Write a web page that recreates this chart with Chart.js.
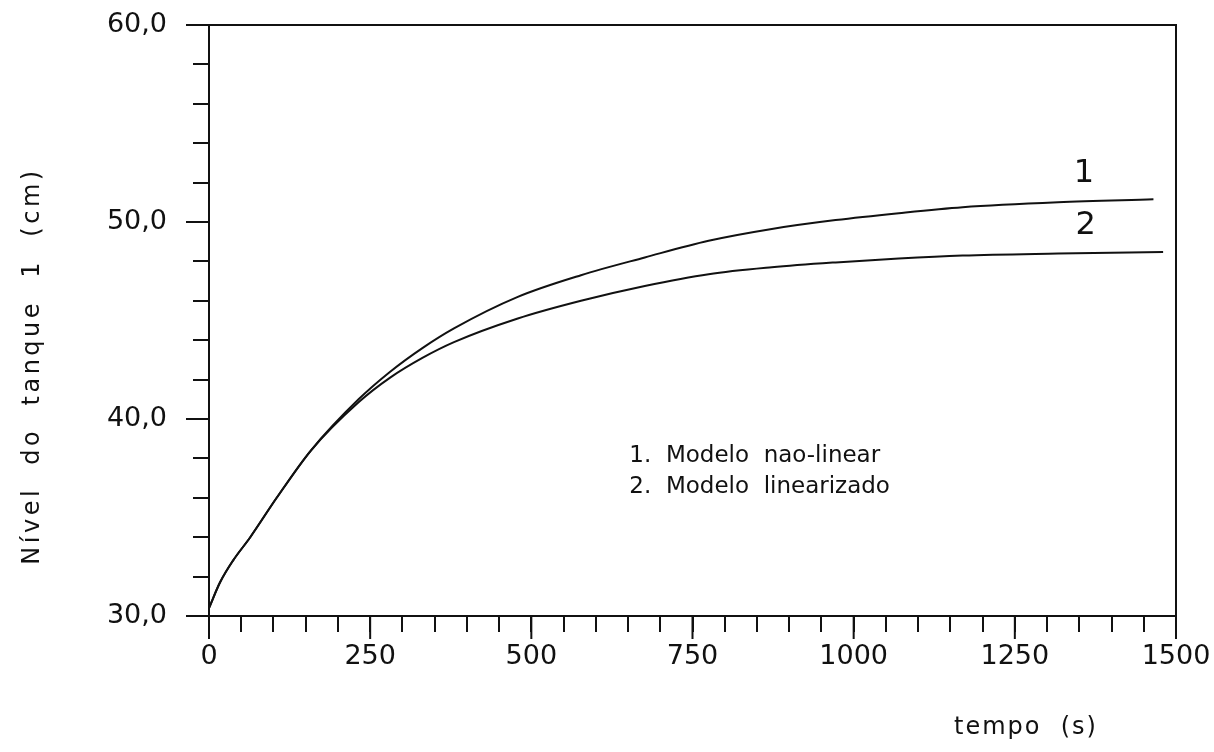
<!DOCTYPE html>
<html>
<head>
<meta charset="utf-8">
<script src="https://cdn.jsdelivr.net/npm/chart.js@4.4.0/dist/chart.umd.min.js"></script>
<style>
  html, body { margin: 0; padding: 0; background: #fff; }
</style>
</head>
<body>
<canvas id="myChart" width="1214" height="752"></canvas>
<script>
// curve 1 - modelo nao-linear
const tempoNaoLinear = [0, 17, 37, 64, 105, 158, 232, 281, 331, 380, 479, 577, 676, 775, 873, 972, 1070, 1169, 1317, 1465];
const nivelNaoLinear = [30.4, 31.7, 32.8, 34.0, 36.0, 38.4, 41.0, 42.4, 43.6, 44.6, 46.2, 47.3, 48.2, 49.05, 49.65, 50.1, 50.45, 50.75, 51.0, 51.15];
// curve 2 - modelo linearizado
const tempoLinear = [0, 17, 37, 64, 105, 158, 232, 281, 331, 380, 479, 577, 676, 775, 873, 972, 1070, 1169, 1317, 1480];
const nivelLinear = [30.4, 31.7, 32.8, 34.0, 36.0, 38.4, 40.85, 42.1, 43.1, 43.9, 45.1, 46.0, 46.75, 47.35, 47.7, 47.95, 48.15, 48.3, 48.4, 48.48];

const xMin = 0, xMax = 1500, xStep = 50, xLabelStep = 250;
const yMin = 30, yMax = 60, yStep = 2, yLabelStep = 10;
const legendLines = ['1.  Modelo  nao-linear', '2.  Modelo  linearizado'];

Chart.defaults.font.family = '"DejaVu Sans", sans-serif';
Chart.defaults.color = '#111';

// frame, longer major ticks and the texts inside the plot
const extras = {
  id: 'extras',
  afterDraw(chart) {
    const { ctx, chartArea: a, scales: { x, y } } = chart;
    ctx.save();
    ctx.strokeStyle = '#111';
    ctx.lineWidth = 2;
    ctx.beginPath();
    ctx.moveTo(a.left, a.top);
    ctx.lineTo(a.right, a.top);
    ctx.lineTo(a.right, a.bottom);
    ctx.stroke();

    ctx.beginPath();
    x.ticks.forEach(t => {
      if (t.value % xLabelStep === 0) {
        const px = x.getPixelForValue(t.value);
        ctx.moveTo(px, a.bottom);
        ctx.lineTo(px, a.bottom + 23);
      }
    });
    y.ticks.forEach(t => {
      if (t.value % yLabelStep === 0) {
        const py = y.getPixelForValue(t.value);
        ctx.moveTo(a.left, py);
        ctx.lineTo(a.left - 23, py);
      }
    });
    ctx.stroke();

    ctx.fillStyle = '#111';
    ctx.textBaseline = 'middle';
    ctx.textAlign = 'center';
    ctx.font = '32px "DejaVu Sans"';
    ctx.fillText('1', x.getPixelForValue(1357), y.getPixelForValue(52.45));
    ctx.fillText('2', x.getPixelForValue(1360), y.getPixelForValue(49.8));

    ctx.textAlign = 'left';
    ctx.font = '23px "DejaVu Sans"';
    ctx.fillText(legendLines[0], x.getPixelForValue(652), y.getPixelForValue(38.1));
    ctx.fillText(legendLines[1], x.getPixelForValue(652), y.getPixelForValue(36.55));

    // axis titles
    ctx.textAlign = 'center';
    ctx.font = '24px "DejaVu Sans"';
    ctx.letterSpacing = '2px';
    ctx.fillText('tempo  (s)', 1026, 728);
    ctx.letterSpacing = '3.5px';
    ctx.translate(33, 366);
    ctx.rotate(-Math.PI / 2);
    ctx.fillText('Nível  do  tanque  1  (cm)', 0, 0);
    ctx.restore();
  }
};

const ctx = document.getElementById('myChart');
new Chart(ctx, {
  type: 'line',
  data: {
    datasets: [
      {
        label: 'Modelo nao-linear',
        data: tempoNaoLinear.map((t, i) => ({ x: t, y: nivelNaoLinear[i] })),
        borderColor: '#111',
        borderWidth: 2,
        pointRadius: 0,
        cubicInterpolationMode: 'monotone'
      },
      {
        label: 'Modelo linearizado',
        data: tempoLinear.map((t, i) => ({ x: t, y: nivelLinear[i] })),
        borderColor: '#111',
        borderWidth: 2,
        pointRadius: 0,
        cubicInterpolationMode: 'monotone'
      }
    ]
  },
  options: {
    responsive: false,
    animation: false,
    layout: { padding: { top: 25, right: 38, left: 0, bottom: 0 } },
    plugins: {
      legend: { display: false },
      tooltip: { enabled: false }
    },
    scales: {
      x: {
        type: 'linear',
        min: xMin,
        max: xMax,
        afterFit(scale) {
          scale.height = 136;
          scale.paddingLeft = 0;
          scale.paddingRight = 0;
        },
        grid: { drawOnChartArea: false, tickLength: 16, color: '#111', lineWidth: 2 },
        border: { color: '#111', width: 2 },
        ticks: {
          stepSize: xStep,
          autoSkip: false,
          maxRotation: 0,
          padding: 9,
          font: { size: 27 },
          callback: v => (v % xLabelStep === 0 ? String(v) : '')
        }
      },
      y: {
        min: yMin,
        max: yMax,
        afterFit(scale) {
          scale.width = 209;
          scale.paddingTop = 0;
          scale.paddingBottom = 0;
        },
        grid: { drawOnChartArea: false, tickLength: 16, color: '#111', lineWidth: 2 },
        border: { color: '#111', width: 2 },
        ticks: {
          stepSize: yStep,
          autoSkip: false,
          padding: 26,
          font: { size: 27 },
          callback: v => (v % yLabelStep === 0 ? v.toFixed(1).replace('.', ',') : '')
        }
      }
    }
  },
  plugins: [extras]
});
</script>
</body>
</html>
